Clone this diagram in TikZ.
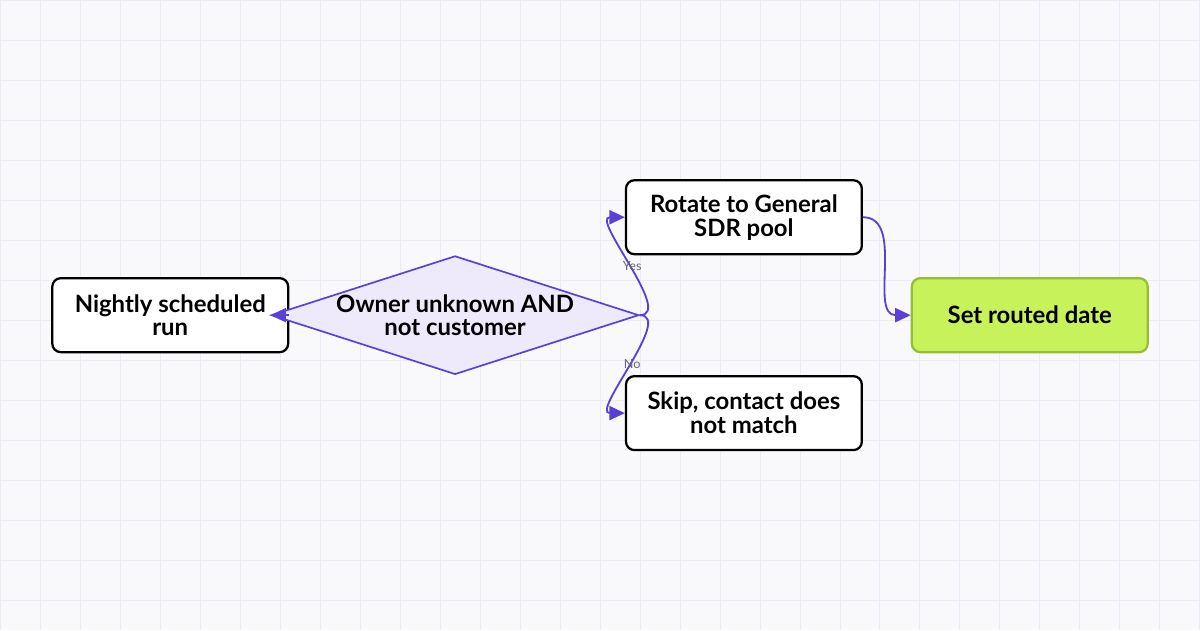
\documentclass[tikz,border=0pt]{standalone}
\usepackage{fontspec}
\setmainfont{Lato}
\usetikzlibrary{shapes.geometric,arrows.meta}
\definecolor{flowline}{HTML}{5B3FD9}
\definecolor{decfill}{HTML}{EEEAFB}
\definecolor{endfill}{HTML}{C8F25A}
\definecolor{endline}{HTML}{97BC35}
\definecolor{gridline}{HTML}{ECEAF7}
\definecolor{bgfill}{HTML}{F9F9FC}
\definecolor{lbl}{HTML}{666677}
\tikzset{
  process/.style={draw=black,line width=1.6pt,rounded corners=6pt,fill=white,
    minimum width=236*0.025cm,minimum height=74*0.025cm,align=center,
    font=\fontsize{17}{17}\selectfont\bfseries},
  decision/.style={diamond,draw=flowline,line width=1.2pt,fill=decfill,aspect=3.1,
    minimum width=250*0.025cm,minimum height=81*0.025cm,inner sep=0pt,align=center,
    font=\fontsize{17}{17}\selectfont\bfseries},
  flow/.style={draw=flowline,line width=1.3pt,-{Triangle[length=11pt,width=10pt]}},
  edgelabel/.style={font=\fontsize{9}{9}\selectfont,text=lbl}
}
\begin{document}
\begin{tikzpicture}[x=0.025cm,y=-0.025cm]
\fill[bgfill] (0,0) rectangle (1200,630);
\foreach \i in {0,40,...,1200} \draw[gridline,line width=0.5pt] (\i,0) -- (\i,630);
\foreach \j in {0,40,...,620} \draw[gridline,line width=0.5pt] (0,\j) -- (1200,\j);
\useasboundingbox (0,0) rectangle (1200,630);
\node[process] (nightly) at (170,315) {Nightly scheduled\\run};
\node[decision] (owner) at (455,315) {Owner unknown AND\\not customer};
\node[process] (rotate) at (744,217) {Rotate to General\\SDR pool};
\node[process] (skip) at (744,413) {Skip, contact does\\not match};
\node[process,fill=endfill,draw=endline] (routed) at (1030,315) {Set routed date};
\draw[flow] (nightly) -- (owner.west);
\draw[flow] (owner.east) to[out=0,in=180,looseness=0.9] node[edgelabel,pos=0.5] {Yes} (rotate.west);
\draw[flow] (owner.east) to[out=0,in=180,looseness=0.9] node[edgelabel,pos=0.5] {No} (skip.west);
\draw[flow] (rotate.east) to[out=0,in=180] (routed.west);
\end{tikzpicture}
\end{document}
